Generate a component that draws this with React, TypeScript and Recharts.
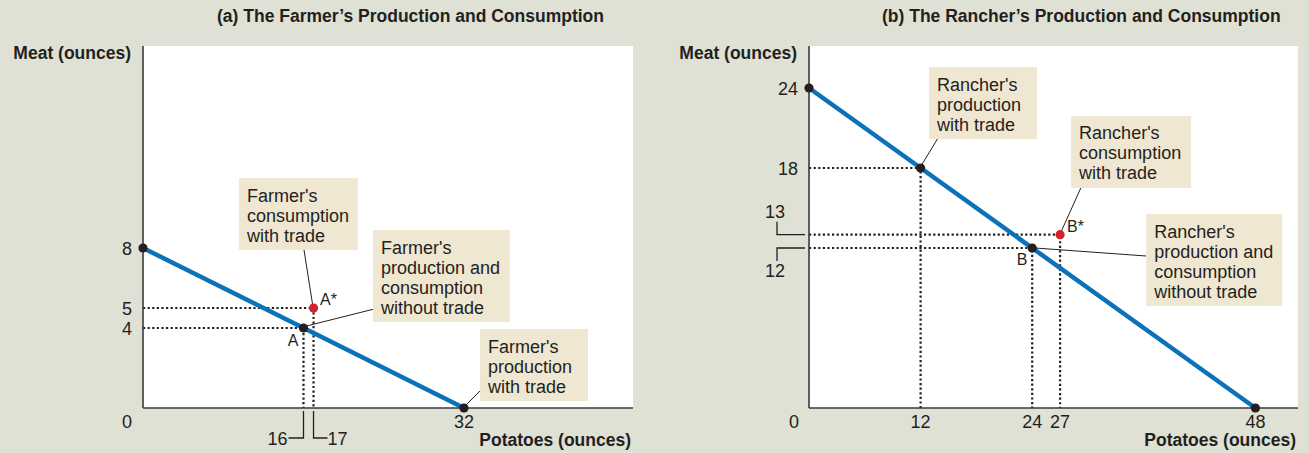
import { ComposedChart, Line, Scatter, XAxis, YAxis, ReferenceArea, ReferenceDot } from 'recharts'

const BG = '#dfe1d4'
const BOX = '#efe7d2'
const INK = '#231f20'
const BLUE = '#0b72b9'
const RED = '#d1232a'
const FONT = '"Liberation Sans", Arial, sans-serif'

// (a) farmer
const farmerFrontier = [{ potatoes: 0, meat: 8 }, { potatoes: 32, meat: 0 }]
const farmerDots = [{ potatoes: 0, meat: 8 }, { potatoes: 16, meat: 4 }, { potatoes: 32, meat: 0 }]
const farmerTradeDot = [{ potatoes: 17, meat: 5 }]
const farmerGuideA = [{ potatoes: 0, meat: 4 }, { potatoes: 16, meat: 4 }, { potatoes: 16, meat: 0 }]
const farmerGuideAStar = [{ potatoes: 0, meat: 5 }, { potatoes: 17, meat: 5 }, { potatoes: 17, meat: 0 }]
const farmerXTicks = [0, 16, 17, 32]
const farmerYTicks = [4, 5, 8]

// (b) rancher
const rancherFrontier = [{ potatoes: 0, meat: 24 }, { potatoes: 48, meat: 0 }]
const rancherDots = [{ potatoes: 0, meat: 24 }, { potatoes: 12, meat: 18 }, { potatoes: 24, meat: 12 }, { potatoes: 48, meat: 0 }]
const rancherTradeDot = [{ potatoes: 27, meat: 13 }]
const rancherGuideProd = [{ potatoes: 0, meat: 18 }, { potatoes: 12, meat: 18 }, { potatoes: 12, meat: 0 }]
const rancherGuideB = [{ potatoes: 0, meat: 12 }, { potatoes: 24, meat: 12 }, { potatoes: 24, meat: 0 }]
const rancherGuideBStar = [{ potatoes: 0, meat: 13 }, { potatoes: 27, meat: 13 }, { potatoes: 27, meat: 0 }]
const rancherXTicks = [0, 12, 24, 27, 48]
const rancherYTicks = [12, 13, 18, 24]

const farmerConsNote = ["Farmer's", 'consumption', 'with trade']
const farmerAutarkyNote = ["Farmer's", 'production and', 'consumption', 'without trade']
const farmerProdNote = ["Farmer's", 'production', 'with trade']
const rancherProdNote = ["Rancher's", 'production', 'with trade']
const rancherConsNote = ["Rancher's", 'consumption', 'with trade']
const rancherAutarkyNote = ["Rancher's", 'production and', 'consumption', 'without trade']

const Callout = ({ cx, cy, lines, dx, dy, w, lead, tag }: any) => {
  const bx = cx + dx
  const by = cy + dy
  return (
    <g>
      <line x1={cx + lead[0]} y1={cy + lead[1]} x2={cx + lead[2]} y2={cy + lead[3]} stroke={INK} strokeWidth={1} />
      <rect x={bx} y={by} width={w} height={lines.length * 20 + 12} fill={BOX} />
      <text x={bx + 8} y={by + 23.5} fontSize={18} fill={INK} fontFamily={FONT}>
        {lines.map((l: string, i: number) => (
          <tspan key={i} x={bx + 8} dy={i ? 20 : 0}>{l}</tspan>
        ))}
      </text>
      {tag && (
        <text x={cx + tag.dx} y={cy + tag.dy} fontSize={16} fill={INK} fontFamily={FONT} textAnchor={tag.anchor}>
          {tag.text}
        </text>
      )}
    </g>
  )
}

const XTick = ({ x, y, payload, zeroShift, brackets }: any) => {
  const v = payload.value
  const common = { fontSize: 18, fill: INK, fontFamily: FONT }
  if (brackets && brackets[v] === 'left') {
    return (
      <g>
        <polyline points={`${x},${y + 3} ${x},${y + 30} ${x - 15},${y + 30}`} fill="none" stroke={INK} strokeWidth={1.3} />
        <text x={x - 16} y={y + 37} textAnchor="end" {...common}>{v}</text>
      </g>
    )
  }
  if (brackets && brackets[v] === 'right') {
    return (
      <g>
        <polyline points={`${x},${y + 3} ${x},${y + 30} ${x + 14},${y + 30}`} fill="none" stroke={INK} strokeWidth={1.3} />
        <text x={x + 14} y={y + 37} textAnchor="start" {...common}>{v}</text>
      </g>
    )
  }
  return (
    <text x={v === 0 ? x - zeroShift : x} y={y + 19.5} textAnchor="middle" {...common}>{v}</text>
  )
}

const YTick = ({ x, y, payload, brackets }: any) => {
  const v = payload.value
  const common = { fontSize: 18, fill: INK, fontFamily: FONT }
  if (brackets && brackets[v] === 'up') {
    return (
      <g>
        <polyline points={`${x - 32},${y - 13} ${x - 32},${y} ${x - 4},${y}`} fill="none" stroke={INK} strokeWidth={1.3} />
        <text x={x - 24} y={y - 17} textAnchor="end" {...common}>{v}</text>
      </g>
    )
  }
  if (brackets && brackets[v] === 'down') {
    return (
      <g>
        <polyline points={`${x - 4},${y} ${x - 32},${y} ${x - 32},${y + 13}`} fill="none" stroke={INK} strokeWidth={1.3} />
        <text x={x - 24} y={y + 29} textAnchor="end" {...common}>{v}</text>
      </g>
    )
  }
  return <text x={x - 11} y={y + 6.5} textAnchor="end" {...common}>{v}</text>
}

const yTitle = ({ viewBox }: any) => (
  <text x={viewBox.x + viewBox.width - 12} y={viewBox.y + 13} textAnchor="end" fontSize={17.5} fontWeight={700} fill={INK} fontFamily={FONT}>
    Meat (ounces)
  </text>
)
const xTitle = ({ viewBox }: any) => (
  <text x={viewBox.x + viewBox.width - 2} y={viewBox.y + 38} textAnchor="end" fontSize={17.5} fontWeight={700} fill={INK} fontFamily={FONT}>
    Potatoes (ounces)
  </text>
)

const dot = (fill: string) => (p: any) => <circle cx={p.cx} cy={p.cy} r={4.6} fill={fill} />
const guide = { stroke: INK, strokeWidth: 2.2, strokeDasharray: '2.2 2.4', dot: false, isAnimationActive: false } as const
const axisLine = { stroke: '#3a3a3a', strokeWidth: 1.6 }

export default function App() {
  return (
    <div style={{ position: 'absolute', left: 0, top: 0, width: 1309, height: 453, background: BG }}>
      <div style={{ position: 'absolute', left: 0, top: 0 }}>
        <ComposedChart width={655} height={453} margin={{ top: 46, right: 22, bottom: 5, left: 83 }}>
          <text x={217} y={22} fontSize={17.5} fontWeight={700} fill={INK} fontFamily={FONT}>
            (a) The Farmer’s Production and Consumption
          </text>
          <XAxis type="number" dataKey="potatoes" domain={[0, 48.85]} ticks={farmerXTicks} interval={0}
            height={40} tickSize={0} tickMargin={0} axisLine={axisLine} tickLine={false}
            tick={(p: any) => <XTick {...p} zeroShift={16} brackets={{ 16: 'left', 17: 'right' }} />}
            label={{ content: xTitle }} />
          <YAxis type="number" dataKey="meat" domain={[0, 18.1]} ticks={farmerYTicks} interval={0}
            width={60} tickSize={0} tickMargin={0} axisLine={axisLine} tickLine={false}
            tick={(p: any) => <YTick {...p} />}
            label={{ content: yTitle }} />
          <ReferenceArea x1={0} x2={48.85} y1={0} y2={18.1} fill="#ffffff" fillOpacity={1} stroke="none" />
          <Line data={farmerGuideAStar} dataKey="meat" {...guide} />
          <Line data={farmerGuideA} dataKey="meat" {...guide} />
          <Line data={farmerFrontier} dataKey="meat" stroke={BLUE} strokeWidth={4.5} dot={false} isAnimationActive={false} />
          <ReferenceDot x={17} y={5} r={0} shape={(p: any) => (
            <Callout {...p} lines={farmerConsNote} dx={-74.5} dy={-130} w={119} lead={[-9.5, -58, -1, -4]}
              tag={{ text: 'A*', dx: 6.5, dy: -3, anchor: 'start' }} />
          )} />
          <ReferenceDot x={16} y={4} r={0} shape={(p: any) => (
            <Callout {...p} lines={farmerAutarkyNote} dx={69.5} dy={-98} w={137} lead={[3, -2, 69.5, -18.7]}
              tag={{ text: 'A', dx: -10.5, dy: 18, anchor: 'middle' }} />
          )} />
          <ReferenceDot x={32} y={0} r={0} shape={(p: any) => (
            <Callout {...p} lines={farmerProdNote} dx={16} dy={-79} w={108} lead={[2, -3, 16, -17]} />
          )} />
          <Scatter data={farmerDots} fill={INK} shape={dot(INK)} isAnimationActive={false} />
          <Scatter data={farmerTradeDot} fill={RED} shape={dot(RED)} isAnimationActive={false} />
        </ComposedChart>
      </div>
      <div style={{ position: 'absolute', left: 655, top: 0 }}>
        <ComposedChart width={654} height={453} margin={{ top: 46, right: 11, bottom: 5, left: 94 }}>
          <text x={227} y={22} fontSize={17.5} fontWeight={700} fill={INK} fontFamily={FONT}>
            (b) The Rancher’s Production and Consumption
          </text>
          <XAxis type="number" dataKey="potatoes" domain={[0, 52.58]} ticks={rancherXTicks} interval={0}
            height={40} tickSize={0} tickMargin={0} axisLine={axisLine} tickLine={false}
            tick={(p: any) => <XTick {...p} zeroShift={15} />}
            label={{ content: xTitle }} />
          <YAxis type="number" dataKey="meat" domain={[0, 27.15]} ticks={rancherYTicks} interval={0}
            width={60} tickSize={0} tickMargin={0} axisLine={axisLine} tickLine={false}
            tick={(p: any) => <YTick {...p} brackets={{ 13: 'up', 12: 'down' }} />}
            label={{ content: yTitle }} />
          <ReferenceArea x1={0} x2={52.58} y1={0} y2={27.15} fill="#ffffff" fillOpacity={1} stroke="none" />
          <Line data={rancherGuideProd} dataKey="meat" {...guide} />
          <Line data={rancherGuideBStar} dataKey="meat" {...guide} />
          <Line data={rancherGuideB} dataKey="meat" {...guide} />
          <Line data={rancherFrontier} dataKey="meat" stroke={BLUE} strokeWidth={4.5} dot={false} isAnimationActive={false} />
          <ReferenceDot x={12} y={18} r={0} shape={(p: any) => (
            <Callout {...p} lines={rancherProdNote} dx={8.4} dy={-101} w={108} lead={[1, -3, 17.4, -30]} />
          )} />
          <ReferenceDot x={27} y={13} r={0} shape={(p: any) => (
            <Callout {...p} lines={rancherConsNote} dx={11} dy={-118.7} w={120} lead={[20.7, -46.7, 1.5, -4]}
              tag={{ text: 'B*', dx: 7, dy: -3, anchor: 'start' }} />
          )} />
          <ReferenceDot x={24} y={12} r={0} shape={(p: any) => (
            <Callout {...p} lines={rancherAutarkyNote} dx={114} dy={-34} w={136} lead={[3, 0, 114, 8]}
              tag={{ text: 'B', dx: -10, dy: 17, anchor: 'middle' }} />
          )} />
          <Scatter data={rancherDots} fill={INK} shape={dot(INK)} isAnimationActive={false} />
          <Scatter data={rancherTradeDot} fill={RED} shape={dot(RED)} isAnimationActive={false} />
        </ComposedChart>
      </div>
    </div>
  )
}
